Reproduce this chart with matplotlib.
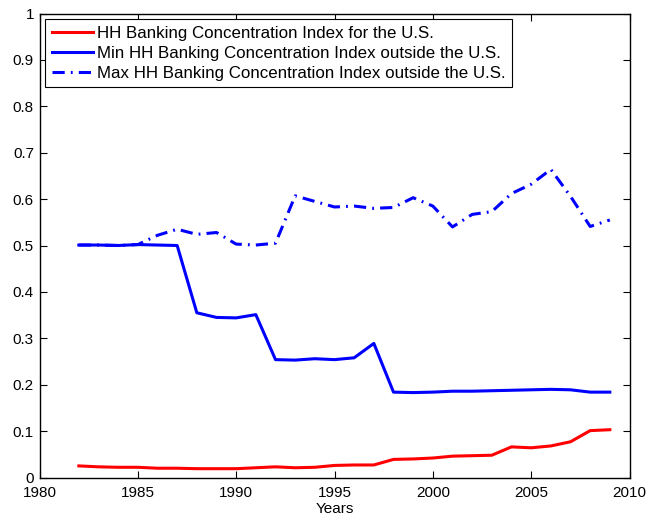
import numpy as np
import matplotlib
matplotlib.use("Agg")
import matplotlib.pyplot as plt

plt.rcParams['font.family'] = ['Liberation Sans', 'DejaVu Sans']

years = list(range(1982, 2010))

# HH index for the U.S.
us_hh = [0.025, 0.023, 0.022, 0.022, 0.020, 0.020, 0.019, 0.019, 0.019, 0.021,
         0.023, 0.021, 0.022, 0.026, 0.027, 0.027, 0.039, 0.040, 0.042, 0.046,
         0.047, 0.048, 0.066, 0.064, 0.068, 0.077, 0.101, 0.103]

# min outside the U.S.
min_hh = [0.501, 0.501, 0.500, 0.502, 0.501, 0.500, 0.355, 0.345, 0.344, 0.351,
          0.254, 0.253, 0.256, 0.254, 0.258, 0.289, 0.184, 0.183, 0.184, 0.186,
          0.186, 0.187, 0.188, 0.189, 0.190, 0.189, 0.184, 0.184]

# max outside the U.S.
max_hh = [0.501, 0.501, 0.500, 0.502, 0.522, 0.535, 0.524, 0.528, 0.503, 0.501,
          0.505, 0.607, 0.595, 0.583, 0.585, 0.580, 0.582, 0.603, 0.585, 0.540,
          0.567, 0.573, 0.612, 0.632, 0.664, 0.606, 0.541, 0.555]

labels = ['HH Banking Concentration Index for the U.S.',
          'Min HH Banking Concentration Index outside the U.S.',
          'Max HH Banking Concentration Index outside the U.S.']

fig = plt.figure(figsize=(6.52, 5.21), dpi=100)
ax = fig.add_axes([39.5 / 652, 1 - 477.5 / 521, 590 / 652, 464 / 521])

ax.plot(years, us_hh, color='red', lw=2.2, label=labels[0])
ax.plot(years, min_hh, color='blue', lw=2.2, label=labels[1])
ax.plot(years, max_hh, color='blue', lw=2.2, dashes=(4, 2, 0.6, 2), label=labels[2])

ax.set_xlim(1980, 2010)
ax.set_ylim(0, 1)
ax.set_xticks(range(1980, 2011, 5))
ax.set_yticks(np.arange(0, 1.01, 0.1))
ax.set_yticklabels(['0', '0.1', '0.2', '0.3', '0.4', '0.5', '0.6', '0.7', '0.8', '0.9', '1'])
ax.tick_params(direction='in', top=True, right=True, labelsize=11, length=5, width=0.8, pad=4)
ax.tick_params(axis='x', pad=6)
for s in ax.spines.values():
    s.set_linewidth(1.0)
ax.set_xlabel('Years', fontsize=11, labelpad=1.5)

leg = ax.legend(loc='upper left', fontsize=12.2, handlelength=2.45, borderpad=0.38,
                labelspacing=0.3, handletextpad=0.2, borderaxespad=0.35, fancybox=False,
                framealpha=1, edgecolor='black')
leg.get_frame().set_linewidth(0.8)

fig.savefig('out.png', dpi=100)
